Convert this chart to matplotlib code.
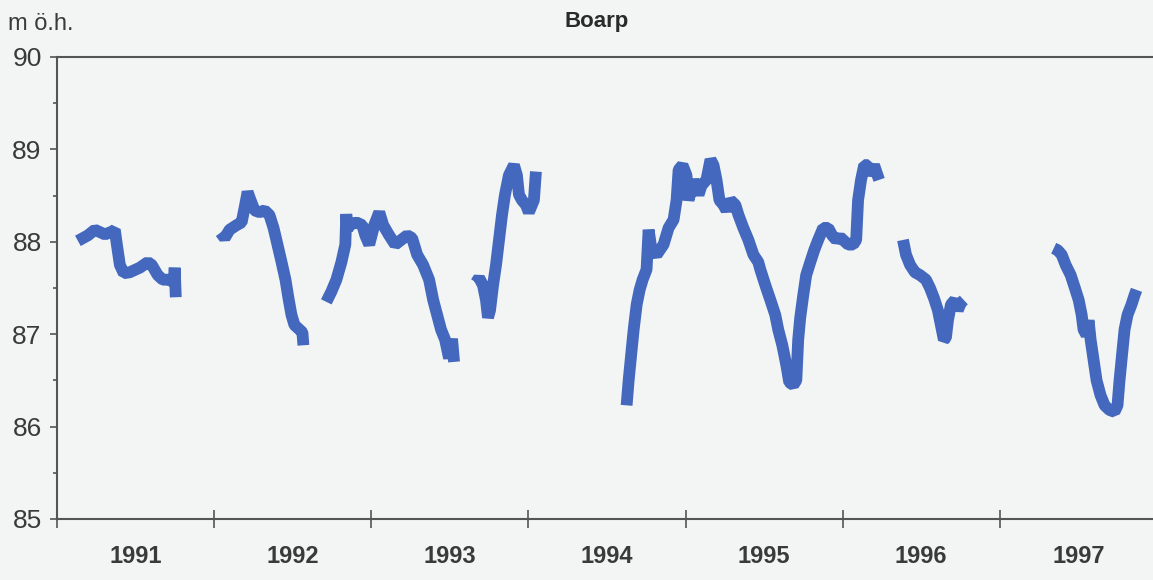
import matplotlib.pyplot as plt
from matplotlib.ticker import MultipleLocator, FixedLocator

# groundwater level Boarp, m above sea level, x in decimal years
t_a = [1991.133, 1991.197, 1991.241, 1991.305, 1991.349, 1991.368, 1991.381, 1991.400,
       1991.425, 1991.463, 1991.527, 1991.578, 1991.603, 1991.641, 1991.673, 1991.717,
       1991.743, 1991.749, 1991.756]
h_a = [88.01, 88.07, 88.13, 88.08, 88.11, 88.13, 87.97, 87.75,
       87.66, 87.67, 87.72, 87.78, 87.75, 87.64, 87.59, 87.59,
       87.56, 87.72, 87.40]

t_b = [1992.041, 1992.067, 1992.098, 1992.143, 1992.175, 1992.194, 1992.213, 1992.232,
       1992.257, 1992.289, 1992.321, 1992.352, 1992.378, 1992.403, 1992.429, 1992.454,
       1992.473, 1992.492, 1992.511, 1992.543, 1992.562, 1992.568]
h_b = [88.10, 88.04, 88.13, 88.18, 88.21, 88.37, 88.54, 88.45,
       88.34, 88.32, 88.34, 88.29, 88.15, 87.97, 87.78, 87.59,
       87.39, 87.21, 87.10, 87.05, 87.02, 86.88]

t_c = [1992.714, 1992.746, 1992.778, 1992.810, 1992.835, 1992.841, 1992.848, 1992.860,
       1992.905, 1992.943, 1992.962, 1992.987, 1993.019, 1993.051, 1993.076, 1993.114,
       1993.152, 1993.190, 1993.229, 1993.260, 1993.292, 1993.330, 1993.368, 1993.394,
       1993.419, 1993.444, 1993.470, 1993.495, 1993.514, 1993.527]
h_c = [87.35, 87.46, 87.59, 87.78, 87.97, 88.30, 88.13, 88.18,
       88.21, 88.18, 88.07, 87.97, 88.18, 88.32, 88.18, 88.07,
       87.97, 88.02, 88.07, 88.04, 87.86, 87.75, 87.59, 87.37,
       87.21, 87.05, 86.94, 86.74, 86.95, 86.70]

t_d = [1993.667, 1993.686, 1993.711, 1993.730, 1993.743, 1993.756, 1993.775, 1993.794,
       1993.813, 1993.832, 1993.851, 1993.876, 1993.908, 1993.927, 1993.940, 1993.959,
       1993.984, 1994.003, 1994.035, 1994.048]
h_d = [87.56, 87.61, 87.53, 87.37, 87.18, 87.26, 87.53, 87.75,
       88.02, 88.29, 88.51, 88.72, 88.83, 88.72, 88.51, 88.45,
       88.40, 88.32, 88.45, 88.76]

t_e = [1994.625, 1994.638, 1994.657, 1994.670, 1994.689, 1994.708, 1994.727, 1994.752,
       1994.765, 1994.784, 1994.816, 1994.860, 1994.892, 1994.924, 1994.943, 1994.956,
       1994.981, 1995.006, 1995.019, 1995.051, 1995.083, 1995.102, 1995.133, 1995.159,
       1995.178, 1995.197, 1995.216, 1995.241, 1995.260, 1995.286, 1995.317, 1995.337,
       1995.368, 1995.400, 1995.432, 1995.463, 1995.476, 1995.508, 1995.540, 1995.571,
       1995.590, 1995.616, 1995.641, 1995.660, 1995.686, 1995.705, 1995.717, 1995.730,
       1995.749, 1995.768, 1995.794, 1995.819, 1995.844, 1995.876, 1995.908, 1995.933,
       1995.959, 1995.984, 1996.003, 1996.035, 1996.067, 1996.086, 1996.098, 1996.117,
       1996.137, 1996.162, 1996.175, 1996.200, 1996.232]
h_e = [86.23, 86.50, 86.83, 87.05, 87.32, 87.48, 87.59, 87.70,
       88.13, 87.91, 87.86, 87.97, 88.15, 88.24, 88.45, 88.78,
       88.83, 88.72, 88.45, 88.67, 88.51, 88.61, 88.67, 88.89,
       88.83, 88.67, 88.45, 88.40, 88.34, 88.45, 88.40, 88.29,
       88.15, 88.02, 87.86, 87.78, 87.70, 87.53, 87.37, 87.21,
       87.05, 86.88, 86.67, 86.48, 86.45, 86.50, 86.94, 87.18,
       87.42, 87.64, 87.78, 87.91, 88.02, 88.15, 88.15, 88.07,
       88.02, 88.05, 88.02, 87.97, 87.97, 88.02, 88.45, 88.67,
       88.83, 88.83, 88.72, 88.83, 88.67]

t_f = [1996.384, 1996.403, 1996.429, 1996.460, 1996.492, 1996.530, 1996.556, 1996.581,
       1996.606, 1996.625, 1996.644, 1996.657, 1996.670, 1996.689, 1996.714, 1996.733,
       1996.752, 1996.771]
h_f = [88.02, 87.86, 87.75, 87.67, 87.64, 87.59, 87.50, 87.39,
       87.26, 87.10, 86.94, 86.96, 87.15, 87.32, 87.37, 87.26,
       87.34, 87.37]

t_g = [1997.343, 1997.368, 1997.394, 1997.419, 1997.451, 1997.476, 1997.502, 1997.521,
       1997.533, 1997.552, 1997.565, 1997.578, 1997.597, 1997.616, 1997.641, 1997.667,
       1997.698, 1997.730, 1997.749, 1997.762, 1997.781, 1997.794, 1997.813, 1997.838,
       1997.857, 1997.870]
h_g = [87.93, 87.91, 87.86, 87.75, 87.64, 87.51, 87.37, 87.21,
       87.05, 86.99, 87.15, 86.94, 86.72, 86.50, 86.34, 86.23,
       86.18, 86.16, 86.23, 86.50, 86.83, 87.05, 87.21, 87.32,
       87.42, 87.48]

years = ["1991", "1992", "1993", "1994", "1995", "1996", "1997"]

segments = [(t_a, h_a), (t_b, h_b), (t_c, h_c), (t_d, h_d), (t_e, h_e), (t_f, h_f), (t_g, h_g)]

bg = "#f2f5f3"
blue = "#4468be"
grey = "#555555"
txt = "#3a3a3a"

fig = plt.figure(figsize=(11.53, 5.80), dpi=100, facecolor=bg)
ax = fig.add_axes([57 / 1153, 61 / 580, 1 - 57 / 1153, 462 / 580])
ax.set_facecolor(bg)

for t, h in segments:
    ax.plot(t, h, color=blue, lw=8.5, solid_joinstyle="bevel", solid_capstyle="butt")

ax.set_xlim(1991, 1997.975)
ax.set_ylim(85, 90)

ax.spines["right"].set_visible(False)
for s in ["left", "top", "bottom"]:
    ax.spines[s].set_color(grey)
    ax.spines[s].set_linewidth(1.5)

ax.yaxis.set_major_locator(MultipleLocator(1))
ax.yaxis.set_minor_locator(MultipleLocator(0.5))
ax.tick_params(axis="y", which="major", direction="out", length=5, width=1.2, color=grey, pad=6)
ax.tick_params(axis="y", which="minor", direction="out", length=3, width=1.2, color=grey)
for lbl in ax.get_yticklabels():
    lbl.set_fontfamily("Liberation Sans")
    lbl.set_fontsize(19)
    lbl.set_color(txt)

ax.xaxis.set_major_locator(FixedLocator(range(1991, 1998)))
ax.xaxis.set_minor_locator(FixedLocator([int(y) + 0.5 for y in years]))
ax.set_xticklabels([], minor=False)
ax.set_xticklabels(years, minor=True)
ax.tick_params(axis="x", which="major", direction="inout", length=13, width=1.2, color=grey)
ax.tick_params(axis="x", which="minor", length=0, pad=19)
for lbl in ax.get_xticklabels(minor=True):
    lbl.set_fontfamily("Liberation Sans")
    lbl.set_fontsize(17)
    lbl.set_fontweight("bold")
    lbl.set_color(txt)

fig.text(597 / 1153, 1 - 21 / 580, "Boarp", ha="center", va="center",
         fontsize=16, fontweight="bold", family="Liberation Sans", color="#2a2a2a")
fig.text(8 / 1153, 1 - 24 / 580, "m ö.h.", ha="left", va="center",
         fontsize=17, family="Liberation Sans", color=txt)

fig.savefig("out.png", dpi=100, facecolor=bg)
